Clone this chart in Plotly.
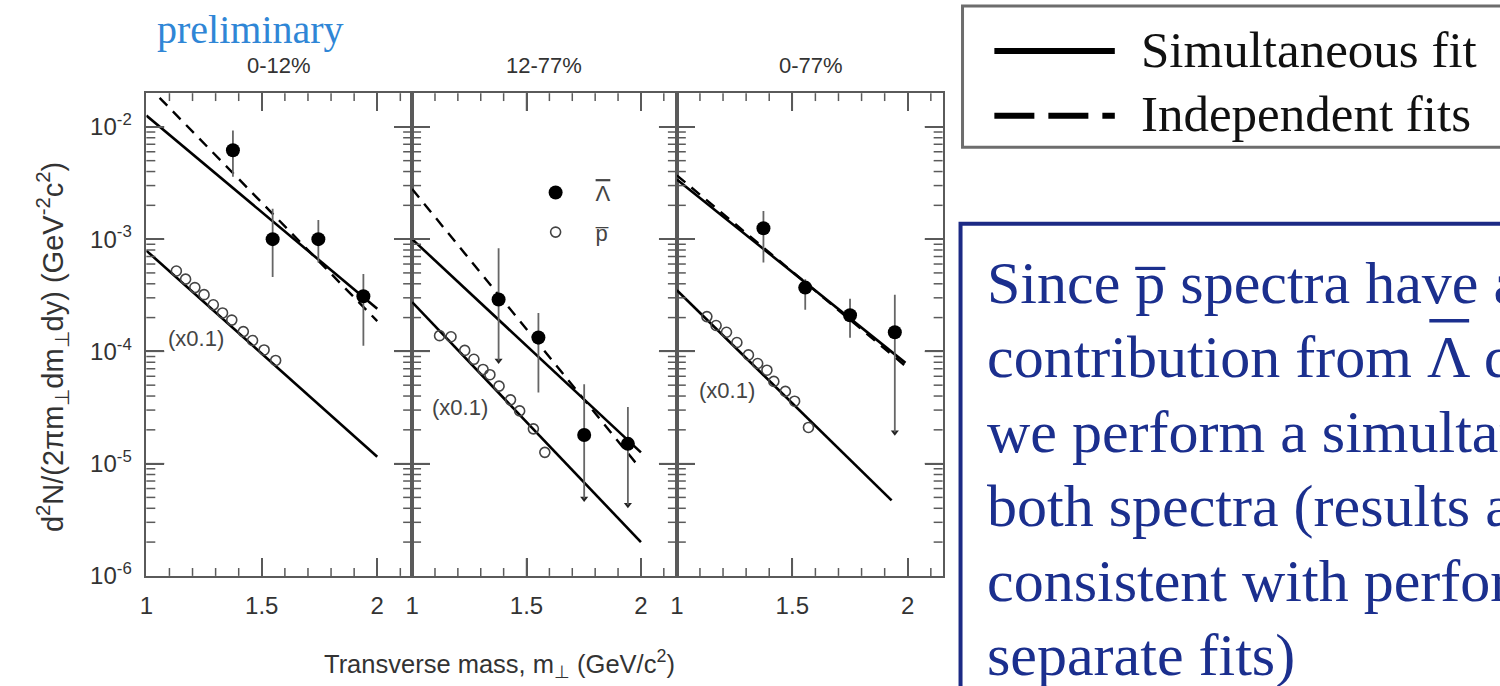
import math
import plotly.graph_objects as go

W, H = 1500, 686


def fx(px):
    return px / W


def fy(py):
    return 1 - py / H


# ---------------- data ----------------
panel_titles = ["0-12%", "12-77%", "0-77%"]

# anti-Lambda spectra (filled circles) with asymmetric errors
lam_x = [
    [1.375, 1.547, 1.745, 1.940],
    [1.378, 1.552, 1.752, 1.943],
    [1.375, 1.556, 1.750, 1.944],
]
lam_y = [
    [6.2e-3, 1.0e-3, 1.0e-3, 3.1e-4],
    [2.9e-4, 1.33e-4, 1.8e-5, 1.5e-5],
    [1.25e-3, 3.7e-4, 2.1e-4, 1.48e-4],
]
lam_hi = [
    [9.3e-3, 1.86e-3, 1.48e-3, 4.9e-4],
    [8.3e-4, 2.2e-4, 5.1e-5, 3.2e-5],
    [1.78e-3, 4.4e-4, 2.95e-4, 3.2e-4],
]
lam_lo = [
    [3.6e-3, 4.6e-4, 6.2e-4, 1.12e-4],
    [8.3e-5, 4.3e-5, 4.9e-6, 4.3e-6],
    [6.2e-4, 2.35e-4, 1.32e-4, 1.9e-5],
]
# lower error ends drawn with an arrow head
lam_lo_arrow = [
    [False, False, False, False],
    [True, False, True, True],
    [False, False, False, True],
]

# anti-proton spectra (open circles), scaled by 0.1
pbar_x = [
    [1.13, 1.17, 1.21, 1.25, 1.29, 1.33, 1.37, 1.42, 1.46, 1.51, 1.56],
    [1.12, 1.17, 1.23, 1.27, 1.31, 1.34, 1.38, 1.43, 1.47, 1.53, 1.58],
    [1.13, 1.17, 1.215, 1.26, 1.31, 1.35, 1.39, 1.42, 1.47, 1.51, 1.57],
]
pbar_y = [
    [5.2e-4, 4.4e-4, 3.7e-4, 3.2e-4, 2.6e-4, 2.2e-4, 1.9e-4, 1.5e-4, 1.25e-4, 1.03e-4, 8.3e-5],
    [1.38e-4, 1.35e-4, 1.02e-4, 8.5e-5, 6.9e-5, 6.2e-5, 4.9e-5, 3.7e-5, 2.95e-5, 2.04e-5, 1.26e-5],
    [2.04e-4, 1.7e-4, 1.48e-4, 1.2e-4, 9.3e-5, 7.8e-5, 6.8e-5, 5.4e-5, 4.4e-5, 3.6e-5, 2.1e-5],
]

# exponential fits (straight on log scale): end points of each fit curve
sim_lam_x = [[1.0, 2.0], [1.0, 2.0], [1.0, 1.99]]
sim_lam_y = [[1.26e-2, 2.4e-4], [1.0e-3, 1.26e-5], [3.4e-3, 7.9e-5]]
sim_pbar_x = [[1.0, 2.0], [1.0, 2.0], [1.0, 1.93]]
sim_pbar_y = [[7.9e-4, 1.15e-5], [2.75e-4, 2.0e-6], [3.5e-4, 4.7e-6]]
ind_lam_x = [[1.0, 2.0], [1.0, 1.98], [1.0, 1.99]]
ind_lam_y = [[2.4e-2, 1.86e-4], [2.8e-3, 1.0e-5], [3.7e-3, 7.4e-5]]

# axis ticks
x_tickvals = [1, 1.5, 2]
x_ticktext = ["1", "1.5", "2"]
x_minor = [1.1, 1.2, 1.3, 1.4, 1.6, 1.7, 1.8, 1.9, 2.1]
y_tickvals = [1e-6, 1e-5, 1e-4, 1e-3, 1e-2]
y_ticktext = ["10<sup>-6</sup>", "10<sup>-5</sup>", "10<sup>-4</sup>",
              "10<sup>-3</sup>", "10<sup>-2</sup>"]
y_minor = [m * d for d in [1e-6, 1e-5, 1e-4, 1e-3, 1e-2] for m in range(2, 10)]

scale_label = "(x0.1)"
lam_name = '<span style="text-decoration:overline">\u039b</span>'
pbar_name = "p\u0305"

# ---------------- layout geometry ----------------
panel_px = [(140, 407), (407, 673), (673, 940)]
x_ranges = [[1, 2.151], [1, 2.157], [1, 2.151]]
y_range = [-6, -1.7]
top_px, bot_px = 95, 587

SANS = "Liberation Sans, Arial, sans-serif"
SERIF = "Liberation Serif, Times New Roman, serif"
AX = "#5a5a5a"

fig = go.Figure()

for i in range(3):
    xa = "x" if i == 0 else f"x{i + 1}"
    ya = "y" if i == 0 else f"y{i + 1}"

    fig.add_trace(go.Scatter(
        x=sim_lam_x[i], y=sim_lam_y[i], xaxis=xa, yaxis=ya, mode="lines",
        line=dict(color="black", width=2.6), showlegend=False, hoverinfo="skip"))
    fig.add_trace(go.Scatter(
        x=ind_lam_x[i], y=ind_lam_y[i], xaxis=xa, yaxis=ya, mode="lines",
        line=dict(color="black", width=2.4, dash="11px,8px"),
        showlegend=False, hoverinfo="skip"))
    fig.add_trace(go.Scatter(
        x=sim_pbar_x[i], y=sim_pbar_y[i], xaxis=xa, yaxis=ya, mode="lines",
        line=dict(color="black", width=2.6), showlegend=False, hoverinfo="skip"))

    # lower-limit arrow heads
    ax_x = [x for x, f in zip(lam_x[i], lam_lo_arrow[i]) if f]
    ax_y = [y for y, f in zip(lam_lo[i], lam_lo_arrow[i]) if f]
    if ax_x:
        fig.add_trace(go.Scatter(
            x=ax_x, y=ax_y, xaxis=xa, yaxis=ya, mode="markers",
            marker=dict(symbol="triangle-down", size=7, color="#222"),
            showlegend=False, hoverinfo="skip"))

    fig.add_trace(go.Scatter(
        x=pbar_x[i], y=pbar_y[i], xaxis=xa, yaxis=ya, mode="markers",
        name=pbar_name, legendgroup="pbar", legendrank=2, showlegend=(i == 1),
        marker=dict(symbol="circle-open", size=10, color="#444",
                    line=dict(width=1.6, color="#444"))))

    fig.add_trace(go.Scatter(
        x=lam_x[i], y=lam_y[i], xaxis=xa, yaxis=ya, mode="markers",
        name=lam_name, legendgroup="lam", legendrank=1, showlegend=(i == 1),
        marker=dict(symbol="circle", size=14, color="black"),
        error_y=dict(type="data", symmetric=False,
                     array=[h - y for h, y in zip(lam_hi[i], lam_y[i])],
                     arrayminus=[y - l for y, l in zip(lam_y[i], lam_lo[i])],
                     color="#666", thickness=1.8, width=0)))

layout = dict(
    width=W, height=H,
    margin=dict(l=0, r=0, t=0, b=0),
    paper_bgcolor="white", plot_bgcolor="white",
    font=dict(family=SANS, color="#333"),
    showlegend=True,
    legend=dict(x=fx(511), y=fy(175), xanchor="left", yanchor="top",
                bgcolor="rgba(0,0,0,0)", borderwidth=0,
                font=dict(family=SANS, size=22, color="#444"),
                itemwidth=70, traceorder="grouped", tracegroupgap=8),
)

common = dict(showline=True, mirror="allticks", linecolor=AX, linewidth=1.6,
              ticks="inside", tickcolor=AX, showgrid=False, zeroline=False,
              tickfont=dict(family=SANS, size=24, color="#333"),
              ticklabelstandoff=8)

shapes = []
tick_line = dict(color=AX, width=1.5)


def tick_py(value):
    """Pixel row of a value on the shared log y scale."""
    f = (math.log10(value) - y_range[0]) / (y_range[1] - y_range[0])
    return bot_px - f * (bot_px - top_px)


for i in range(3):
    sfx = "" if i == 0 else str(i + 1)
    l, r = panel_px[i]
    layout["xaxis" + sfx] = dict(
        common, domain=[fx(l), fx(r)], range=x_ranges[i], anchor="y" + sfx,
        ticklen=18, tickwidth=1.6, tickmode="array",
        tickvals=x_tickvals, ticktext=x_ticktext)
    layout["yaxis" + sfx] = dict(
        common, domain=[fy(bot_px), fy(top_px)], type="log", range=y_range,
        anchor="x" + sfx, ticklen=18, tickwidth=1.6, tickmode="array",
        tickvals=y_tickvals, ticktext=y_ticktext, showticklabels=(i == 0))

    # frame ticks pointing inward from all four edges
    x_lo, x_hi = x_ranges[i]
    for vals, length in [(x_minor, 8), (x_tickvals, 18)]:
        for v in vals:
            if not (x_lo < v < x_hi):
                continue
            px = l + (v - x_lo) / (x_hi - x_lo) * (r - l)
            for edge, sign in [(bot_px, -1), (top_px, 1)]:
                shapes.append(dict(
                    type="line", xref="paper", yref="paper",
                    x0=fx(px), x1=fx(px), y0=fy(edge), y1=fy(edge + sign * length),
                    line=tick_line))
    for vals, length in [(y_minor, 9), (y_tickvals, 18)]:
        for v in vals:
            py = tick_py(v)
            if not (top_px < py < bot_px):
                continue
            for edge, sign in [(l, 1), (r, -1)]:
                shapes.append(dict(
                    type="line", xref="paper", yref="paper",
                    x0=fx(edge), x1=fx(edge + sign * length), y0=fy(py), y1=fy(py),
                    line=tick_line))

annotations = []


def note(text, px, py, size, color="#333", family=SANS, xanchor="center",
         yanchor="middle", angle=0):
    annotations.append(dict(
        text=text, x=fx(px), y=fy(py), xref="paper", yref="paper",
        showarrow=False, xanchor=xanchor, yanchor=yanchor, textangle=angle,
        font=dict(family=family, size=size, color=color)))


note("preliminary", 245, 30, 40, color="#2f86d6", family=SERIF)
for title, cx in zip(panel_titles, [273, 540, 808]):
    note(title, cx, 67, 22)
for px, py in [(190, 345), (455, 415), (723, 398)]:
    note(scale_label, px, py, 22, color="#444")

note("Transverse mass, m<sub>\u22a5</sub> (GeV/c<sup>2</sup>)", 495, 677, 25.5)
note("d<sup>2</sup>N/(2\u03c0m<sub>\u22a5</sub>dm<sub>\u22a5</sub>dy) "
     "(GeV<sup>-2</sup>c<sup>2</sup>)", 46, 354, 29, angle=-90)

# fit-style key
note("Simultaneous fit", 1137, 51, 51, color="#111", family=SERIF, xanchor="left")
note("Independent fits", 1137, 116, 51, color="#111", family=SERIF, xanchor="left")

# explanatory text box
BLUE = "#1b2f8e"
text_lines = [
    "Since p\u0305 spectra have a",
    "contribution from \u039b decays,",
    "we perform a simultaneous fit to",
    "both spectra (results are",
    "consistent with performing",
    "separate fits)",
]
for line, cy in zip(text_lines, [288, 364, 440, 516, 592, 668]):
    note(line, 983, cy, 60, color=BLUE, family=SERIF, xanchor="left")

layout["annotations"] = annotations

shapes += [
    dict(type="rect", xref="paper", yref="paper",
         x0=fx(960), x1=fx(1520), y0=fy(150), y1=fy(6),
         line=dict(color="#6d6d6d", width=3), fillcolor="rgba(0,0,0,0)"),
    dict(type="line", xref="paper", yref="paper",
         x0=fx(992), x1=fx(1113), y0=fy(52), y1=fy(52),
         line=dict(color="black", width=6)),
    dict(type="line", xref="paper", yref="paper",
         x0=fx(992), x1=fx(1113), y0=fy(118), y1=fy(118),
         line=dict(color="black", width=6, dash="40px,14px")),
    dict(type="rect", xref="paper", yref="paper",
         x0=fx(958), x1=fx(1530), y0=fy(720), y1=fy(228),
         line=dict(color="#1c2a85", width=4), fillcolor="rgba(0,0,0,0)"),
    # bar over the Lambda in the text box
    dict(type="line", xref="paper", yref="paper",
         x0=fx(1429), x1=fx(1469), y0=fy(327), y1=fy(327),
         line=dict(color=BLUE, width=3.5)),
]
layout["shapes"] = shapes

fig.update_layout(**layout)
fig.write_html("out.html")
